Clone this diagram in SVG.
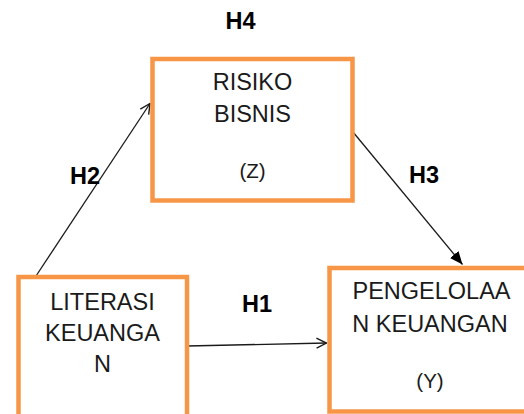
<svg xmlns="http://www.w3.org/2000/svg" width="524" height="414" viewBox="0 0 524 414">
  <style>
    .box { fill: #ffffff; stroke: #F79646; stroke-width: 4.5; }
    .lbl { font-family: "Liberation Sans", Arial, sans-serif; font-size: 23.5px; fill: #1a1a1a; text-anchor: middle; }
    .sub { font-family: "Liberation Sans", Arial, sans-serif; font-size: 20.5px; fill: #1a1a1a; text-anchor: middle; }
    .hyp { font-family: "Liberation Sans", Arial, sans-serif; font-size: 23.5px; font-weight: bold; fill: #000000; text-anchor: middle; }
    .edge { fill: none; stroke: #1a1a1a; stroke-width: 1.3; }
  </style>
  <defs>
    <marker id="open" viewBox="0 0 12 12" refX="11" refY="6" markerWidth="12" markerHeight="12" markerUnits="userSpaceOnUse" orient="auto">
      <path d="M1,1 L11,6 L1,11" fill="none" stroke="#1a1a1a" stroke-width="1.4"/>
    </marker>
    <marker id="solid" viewBox="0 0 14 12" refX="13" refY="6" markerWidth="14" markerHeight="12" markerUnits="userSpaceOnUse" orient="auto">
      <path d="M0,0.5 L13,6 L0,11.5 Z" fill="#000000"/>
    </marker>
  </defs>

  <rect width="524" height="414" fill="#ffffff"/>

  <g id="connectors">
    <line class="edge" x1="36" y1="276" x2="150" y2="103.5" marker-end="url(#open)"/>
    <line class="edge" x1="353" y1="132" x2="462.5" y2="264.5" marker-end="url(#solid)"/>
    <line class="edge" x1="187" y1="346" x2="326.5" y2="343" marker-end="url(#open)"/>
    <text class="hyp" x="240.5" y="28.5">H4</text>
    <text class="hyp" x="85" y="183.5">H2</text>
    <text class="hyp" x="424" y="183">H3</text>
    <text class="hyp" x="257" y="311.5">H1</text>
  </g>

  <g id="risiko-bisnis">
    <rect class="box" x="152.5" y="59" width="200" height="141.5"/>
    <text class="lbl" x="252.5" y="90">RISIKO</text>
    <text class="lbl" x="252.5" y="121.5">BISNIS</text>
    <text class="sub" x="252.5" y="178">(Z)</text>
  </g>

  <g id="literasi-keuangan">
    <rect class="box" x="18.5" y="277" width="168.5" height="142"/>
    <text class="lbl" x="102.5" y="309.5">LITERASI</text>
    <text class="lbl" x="102.5" y="340.5">KEUANGA</text>
    <text class="lbl" x="102.5" y="371.5">N</text>
  </g>

  <g id="pengelolaan-keuangan">
    <rect class="box" x="329.5" y="268" width="210" height="143.5"/>
    <text class="lbl" x="431.5" y="298.5">PENGELOLAA</text>
    <text class="lbl" x="430" y="331.5">N KEUANGAN</text>
    <text class="sub" x="430" y="388">(Y)</text>
  </g>
</svg>
